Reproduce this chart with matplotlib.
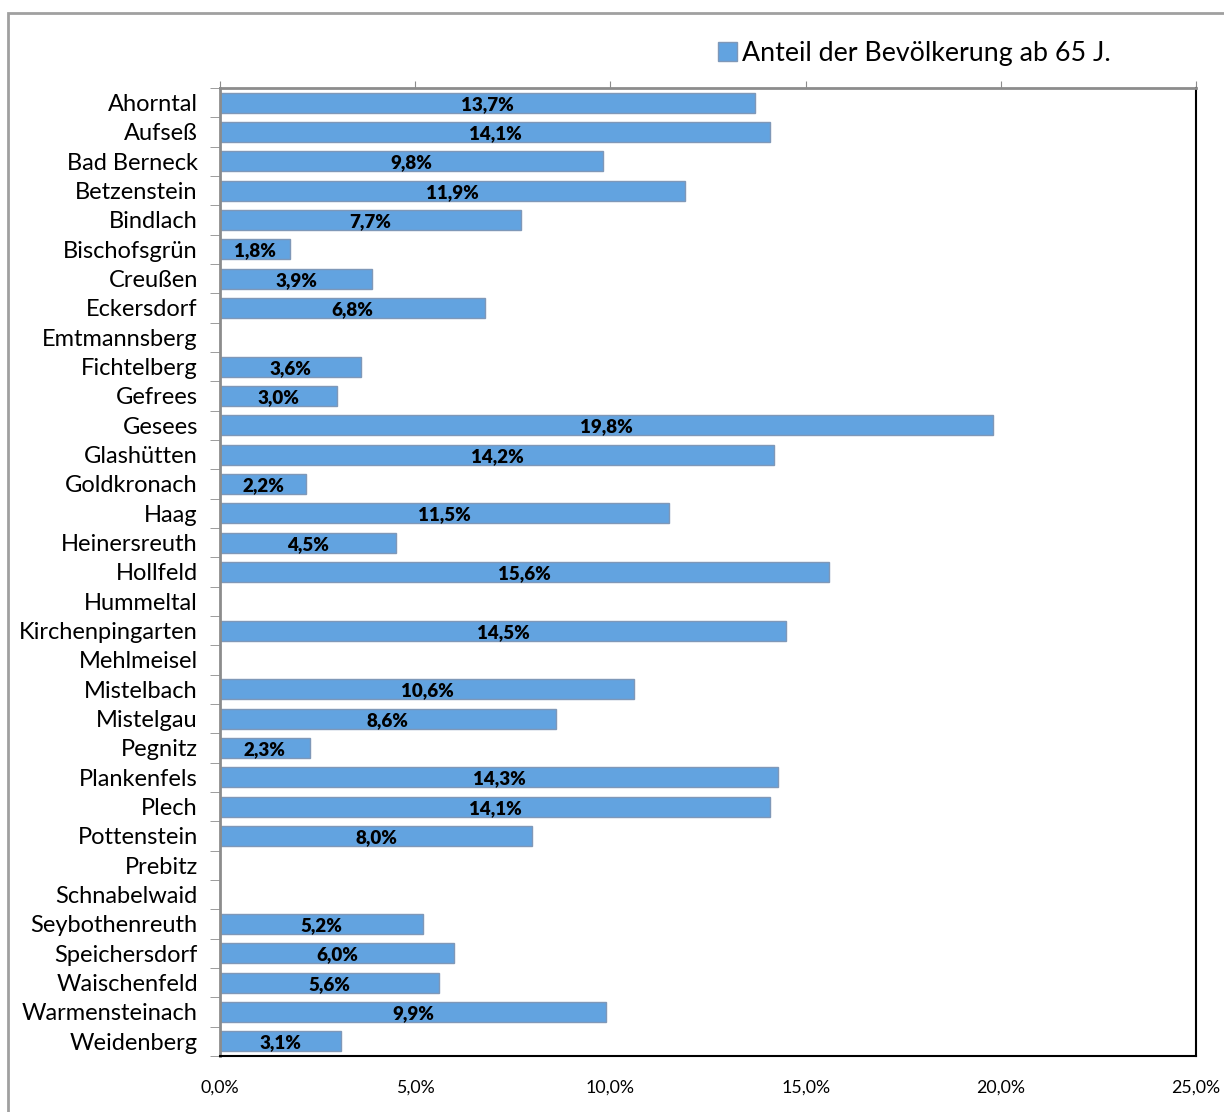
import numpy as np
import matplotlib.pyplot as plt
from matplotlib.patches import Rectangle

plt.rcParams['font.family'] = ['Lato', 'DejaVu Sans']

orte = ['Ahorntal', 'Aufseß', 'Bad Berneck', 'Betzenstein', 'Bindlach',
        'Bischofsgrün', 'Creußen', 'Eckersdorf', 'Emtmannsberg', 'Fichtelberg',
        'Gefrees', 'Gesees', 'Glashütten', 'Goldkronach', 'Haag',
        'Heinersreuth', 'Hollfeld', 'Hummeltal', 'Kirchenpingarten', 'Mehlmeisel',
        'Mistelbach', 'Mistelgau', 'Pegnitz', 'Plankenfels', 'Plech',
        'Pottenstein', 'Prebitz', 'Schnabelwaid', 'Seybothenreuth', 'Speichersdorf',
        'Waischenfeld', 'Warmensteinach', 'Weidenberg']
anteil = [13.7, 14.1, 9.8, 11.9, 7.7,
          1.8, 3.9, 6.8, None, 3.6,
          3.0, 19.8, 14.2, 2.2, 11.5,
          4.5, 15.6, None, 14.5, None,
          10.6, 8.6, 2.3, 14.3, 14.1,
          8.0, None, None, 5.2, 6.0,
          5.6, 9.9, 3.1]
xticks = [0, 5, 10, 15, 20, 25]
legend_text = 'Anteil der Bevölkerung ab 65 J.'

vals = np.array([np.nan if v is None else v for v in anteil])
n = len(orte)
y = np.arange(n)

fig = plt.figure(figsize=(12.24, 11.12), dpi=100)
ax = fig.add_axes([220/1224, 1-1056/1112, 976/1224, 968/1112])

bar_col = '#62a3e0'
edge_col = '#7f98b8'
ax.barh(y, vals, height=0.68, color=bar_col, edgecolor=edge_col, linewidth=1,
        label=legend_text)

for yi, v in zip(y, vals):
    if np.isnan(v):
        continue
    ax.text(v/2, yi + 0.05, ('%.1f%%' % v).replace('.', ','), ha='center', va='center',
            fontsize=13.5, fontweight='heavy', color='black')

ax.set_ylim(n-0.5, -0.5)
ax.set_xlim(0, 25)
ax.set_xticks(xticks)
ax.set_xticklabels([('%.1f%%' % t).replace('.', ',') for t in xticks], fontsize=12.8)
ax.set_yticks(y)
ax.set_yticklabels(orte, fontsize=17)
ax.set_yticks(np.arange(-0.5, n), minor=True)

ax.tick_params(axis='x', which='major', top=True, bottom=False, labeltop=False,
               labelbottom=True, direction='out', length=5, color='#8c8c8c', pad=12)
ax.tick_params(axis='y', which='major', length=0, pad=16)
ax.tick_params(axis='y', which='minor', length=7, color='#8c8c8c', direction='out')

ax.spines['top'].set_color('#8c8c8c')
ax.spines['top'].set_linewidth(2)
ax.spines['left'].set_color('#8c8c8c')
ax.spines['left'].set_linewidth(2)
ax.spines['right'].set_color('black')
ax.spines['right'].set_linewidth(1.5)
ax.spines['bottom'].set_color('black')
ax.spines['bottom'].set_linewidth(1.5)

fig.legend(loc='center left', bbox_to_anchor=(718/1224, 1-53/1112), frameon=False,
           fontsize=19.3, handlelength=0.7, handleheight=0.7, handletextpad=0.2,
           borderpad=0, borderaxespad=0)

# outer chart frame
fig.patches.append(Rectangle((8/1224, -0.05), 1.2, 1-13/1112+0.05, transform=fig.transFigure,
                             fill=False, edgecolor='#a0a0a0', linewidth=2))

fig.savefig('out.png', dpi=100)
